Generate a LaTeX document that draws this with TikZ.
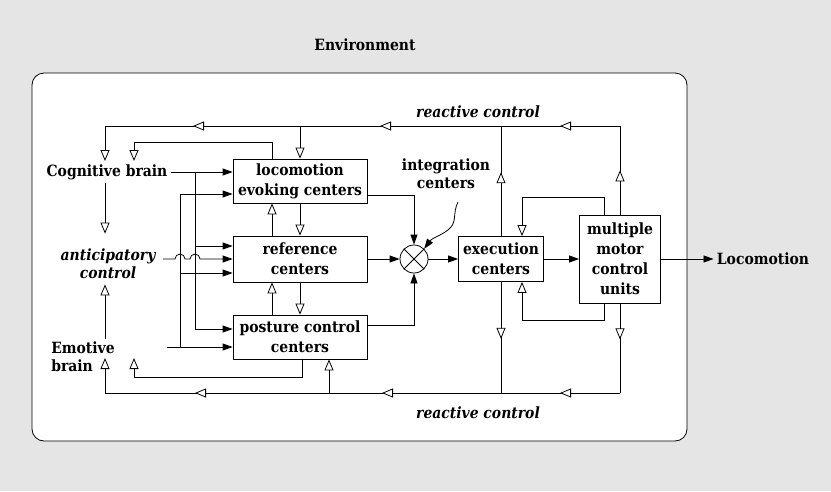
\documentclass[tikz,border=0pt]{standalone}
\usepackage{fontspec}
\setmainfont{DejaVu Serif Condensed}
\usetikzlibrary{arrows.meta,decorations.markings}

\tikzset{
  oTri/.tip={Triangle[length=11pt,width=9pt,fill=white]},
  fTri/.tip={Triangle[length=10pt,width=7pt]},
  omark/.style={postaction={decorate,decoration={markings,mark=at position #1 with {\arrow{oTri}}}}},
  block/.style={draw, fill=white, align=center, inner sep=1pt, font=\fontsize{15.5}{20}\selectfont\bfseries},
  lbl/.style={align=center, inner sep=3pt, font=\fontsize{15.5}{18}\selectfont\bfseries},
  ilbl/.style={lbl, font=\fontsize{15.5}{18}\selectfont\bfseries\itshape},
}

\begin{document}
\begin{tikzpicture}[x=1pt, y=-1pt, line width=0.8pt, >=fTri]
    % environment
    \fill[black!10] (0,0) rectangle (831,491);
    \draw[fill=white, rounded corners=12pt] (32,73) rectangle (687,441);
    \node[lbl] (env) at (365,45) {Environment};

    % blocks
    \node[block, minimum width=134pt, minimum height=44pt] (loco) at (300,181) {locomotion\\evoking centers};
    \node[block, minimum width=134pt, minimum height=46pt] (ref)  at (300,259) {reference\\centers};
    \node[block, minimum width=134pt, minimum height=44pt] (post) at (300,337) {posture control\\centers};
    \node[draw, circle, minimum size=28pt, inner sep=0pt] (sum) at (414,259) {};
    \draw (sum.north west) -- (sum.south east) (sum.north east) -- (sum.south west);
    \node[block, minimum width=85pt, minimum height=45pt] (exec) at (501,259) {execution\\centers};
    \node[block, minimum width=81pt, minimum height=88pt] (mmcu) at (620,259) {multiple\\motor\\control\\units};

    % labels
    \node[lbl] (cog) at (107,172) {Cognitive brain};
    \node[ilbl] (antic) at (108,264) {anticipatory\\control};
    \node[lbl, align=left] (emo) at (83,357) {Emotive\\brain};
    \node[ilbl] (rctop) at (478,112) {reactive control};
    \node[ilbl] (rcbot) at (478,413) {reactive control};
    \node[lbl] (integ) at (446,174) {integration\\centers};
    \node[lbl] (locout) at (763,259) {Locomotion};

    \coordinate (top) at (0,126);
    \coordinate (bot) at (0,393);
    \coordinate (xl) at (105,0);
    \coordinate (xa) at (180,0);
    \coordinate (xb) at (195,0);
    \coordinate (emoin) at (167,347);
    \coordinate (squig) at (458,202);

    % reactive control, top
    \draw[omark=0.5] (mmcu.north) -- (mmcu.north |- top);
    \draw[omark=0.58] (exec.north) -- (exec.north |- top);
    \draw[-{oTri}, omark=60pt, omark=240pt, omark=427pt] (mmcu.north |- top) -- (top -| xl) -- (105,161);
    \draw[-{oTri}] (loco.north |- top) -- (loco.north);
    \draw[-{oTri}] ([xshift=-28pt]loco.north) -- ++(0,-16) -| (134,161);

    % between the centers
    \foreach \a/\b in {loco/ref, ref/post}{
        \draw[-{oTri}] ([xshift=-28pt]\b.north) -- ([xshift=-28pt]\a.south);
        \draw[-{oTri}] (\a.south) -- (\b.north);
    }

    % anticipatory control
    \draw[-{oTri}, shorten >=12pt] (cog.south -| xl) -- (antic.north -| xl);
    \draw[-{oTri}, shorten >=2pt] (emo.north -| xl) -- (antic.south -| xl);

    % reactive control, bottom
    \draw[omark=36pt] (mmcu.south) -- (mmcu.south |- bot);
    \draw[omark=57pt] (exec.south) -- (exec.south |- bot);
    \draw[-{oTri}, omark=60pt, omark=238pt, omark=425pt] (mmcu.south |- bot) -- (bot -| xl) -- (105,358);
    \draw[-{oTri}] ([xshift=29pt]post.south |- bot) -- ([xshift=29pt]post.south);
    \draw[-{oTri}] ([xshift=2pt]post.south) -- ++(0,18) -| (134,358);

    % inputs to the centers
    \draw[->] (cog.east) -- (cog.east -| loco.west);
    \draw[->] (cog.east -| xb) |- ([yshift=8pt]post.west);
    \draw[->] ([yshift=13pt]ref.west -| xb) -- ([yshift=13pt]ref.west);
    \draw[->] (emoin) -- (emoin -| post.west);
    \draw[->] (emoin -| xa) |- ([yshift=-13pt]loco.west);
    \draw[->] ([yshift=-14pt]ref.west -| xa) -- ([yshift=-14pt]ref.west);
    \draw[->] (ref.west -| 163,0) -- (175,259) arc (180:360:5) -- (190,259) arc (180:360:5) -- (ref.west);

    % integration and execution
    \draw[->] ([yshift=-14pt]loco.east) -| (sum.north);
    \draw[->] (ref.east) -- (sum.west);
    \draw[->] ([yshift=12pt]post.east) -| (sum.south);
    \draw[->] (squig) .. controls (452,214) and (458,222) .. (448,230) .. controls (440,236) and (432,238) .. (sum.north east);
    \draw[->] (sum.east) -- (exec.west);
    \draw[->] (exec.east) -- (mmcu.west);
    \draw[->] (mmcu.east) -- (locout.west);
    \draw[-{oTri}] ([xshift=-16pt]mmcu.north) -- ++(0,-17) -| ([xshift=21pt]exec.north);
    \draw[-{oTri}] ([xshift=-16pt]mmcu.south) -- ++(0,17) -| ([xshift=21pt]exec.south);
\end{tikzpicture}
\end{document}
